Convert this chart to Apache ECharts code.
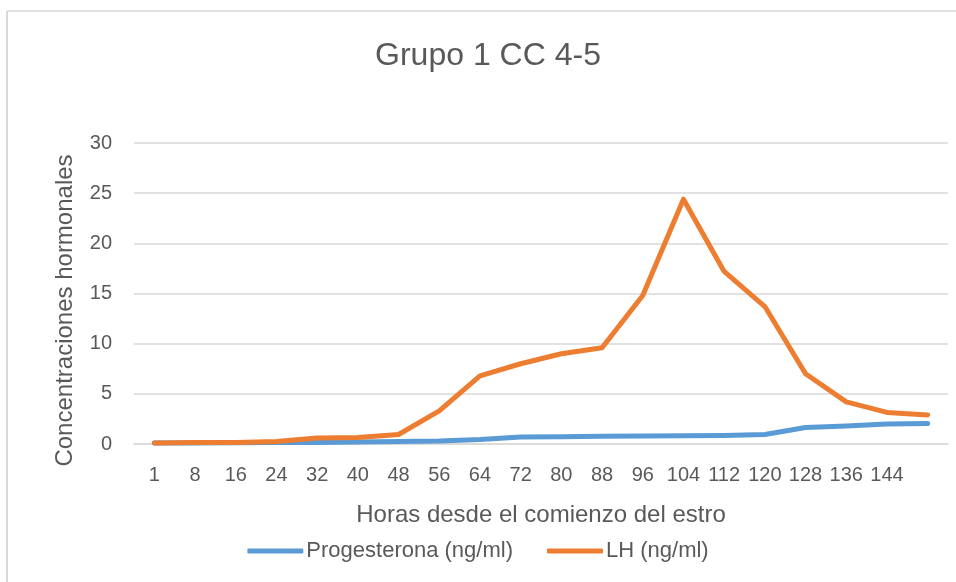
<!DOCTYPE html>
<html>
<head>
<meta charset="utf-8">
<script src="https://cdn.jsdelivr.net/npm/echarts@6/dist/echarts.min.js"></script>
<style>html,body{margin:0;padding:0;background:#fff}#c{width:956px;height:582px}</style>
</head>
<body>
<div id="c"></div>
<script>
var categories = ['1','8','16','24','32','40','48','56','64','72','80','88','96','104','112','120','128','136','144',''];
var progesterona = [0.1,0.1,0.12,0.15,0.15,0.2,0.25,0.3,0.45,0.7,0.72,0.78,0.8,0.82,0.85,0.95,1.65,1.8,2.0,2.05];
var lh = [0.1,0.15,0.15,0.25,0.6,0.65,0.95,3.3,6.8,8.0,9.0,9.6,14.8,24.4,17.2,13.7,7.0,4.2,3.15,2.9];
var yTicks = [0,5,10,15,20,25,30];

var FONT = 'Liberation Sans';
var TXT = '#595959';
var chart = echarts.init(document.getElementById('c'), null, {renderer:'canvas'});
chart.setOption({
  animation:false,
  backgroundColor:'#fff',
  title:{text:'Grupo 1 CC 4-5', left:483, top:35, textAlign:'center',
    textStyle:{fontFamily:FONT, fontSize:32, fontWeight:'normal', color:TXT}},
  graphic:[
    {type:'line', shape:{x1:7,y1:11,x2:956,y2:11}, style:{stroke:'#D9D9D9', lineWidth:1.5}},
    {type:'line', shape:{x1:7,y1:11,x2:7,y2:582}, style:{stroke:'#D9D9D9', lineWidth:2}}
  ],
  legend:{bottom:15, left:'center', itemWidth:56, itemHeight:5, itemGap:34,
    icon:'roundRect',
    textStyle:{fontFamily:FONT, fontSize:22, color:TXT, padding:[0,0,0,-2]},
    data:['Progesterona (ng/ml)','LH (ng/ml)']},
  grid:{left:134, right:8, top:143, bottom:138, containLabel:false},
  xAxis:{type:'category', data:categories, boundaryGap:true,
    name:'Horas desde el comienzo del estro', nameLocation:'middle', nameGap:59,
    nameTextStyle:{fontFamily:FONT, fontSize:24, color:TXT},
    axisLine:{lineStyle:{color:'#D9D9D9', width:1.5}},
    axisTick:{show:false},
    axisLabel:{interval:0, margin:21, fontFamily:FONT, fontSize:20, color:TXT}},
  yAxis:{type:'value', min:0, max:30, interval:5,
    name:'Concentraciones hormonales', nameLocation:'middle', nameGap:57, nameRotate:90,
    nameTextStyle:{fontFamily:FONT, fontSize:24, color:TXT, padding:[0,34,0,0]},
    axisLine:{show:false}, axisTick:{show:false},
    splitLine:{lineStyle:{color:'#D9D9D9', width:1.5}},
    axisLabel:{margin:22, fontFamily:FONT, fontSize:20, color:TXT,
      formatter:function(v){return yTicks.indexOf(v)>=0?String(v):'';}}},
  series:[
    {name:'Progesterona (ng/ml)', type:'line', data:progesterona, showSymbol:false, symbol:'none',
      lineStyle:{color:'#5B9BD5', width:5, cap:'round', join:'round'}, itemStyle:{color:'#5B9BD5'}},
    {name:'LH (ng/ml)', type:'line', data:lh, showSymbol:false, symbol:'none',
      lineStyle:{color:'#ED7D31', width:5, cap:'round', join:'round'}, itemStyle:{color:'#ED7D31'}}
  ]
});
</script>
</body>
</html>
